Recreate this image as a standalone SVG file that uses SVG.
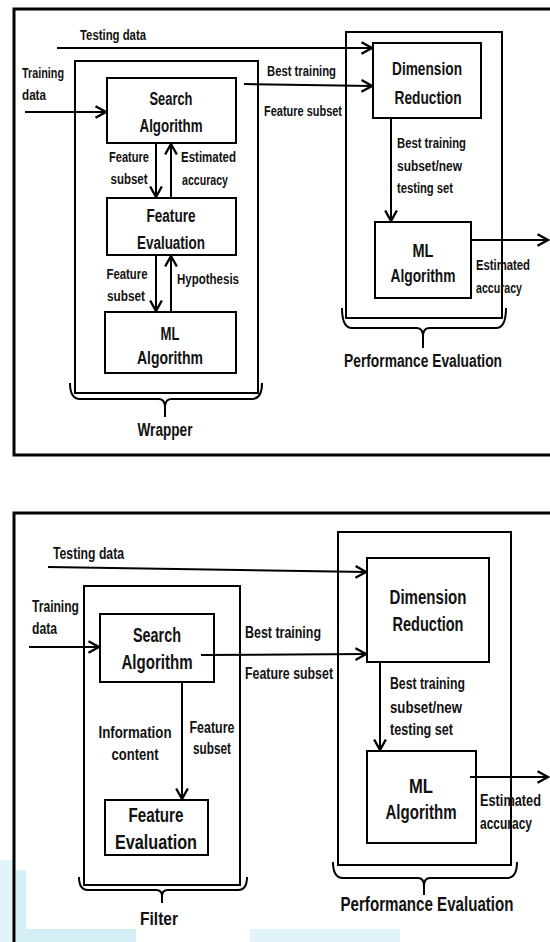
<svg xmlns="http://www.w3.org/2000/svg" width="550" height="942" viewBox="0 0 550 942">
<defs>
<marker id="arr" markerUnits="userSpaceOnUse" markerWidth="14" markerHeight="14" viewBox="-1 -1 12 12" refX="9" refY="5" orient="auto">
<path d="M0,0 L9,5 L0,10" fill="none" stroke="#000" stroke-width="2"/>
</marker>
</defs>
<style>
text{font-family:"Liberation Sans",Arial,sans-serif;font-weight:bold;fill:#111}
.c{text-anchor:middle}
.box{fill:#fff;stroke:#000;stroke-width:2}
.grp{fill:none;stroke:#000;stroke-width:2}
.frame{fill:none;stroke:#000;stroke-width:3}
.ln{fill:none;stroke:#000;stroke-width:2}
.a{marker-end:url(#arr)}
.s14{font-size:15px}.s13{font-size:14.5px}.s15{font-size:16px}.s16{font-size:18px}.s17{font-size:18px}.s18{font-size:19.5px}
.wm{fill:#d4eff6}
</style>
<rect width="550" height="942" fill="#fff"/>
<g id="watermark">
<rect class="wm" x="0" y="860" width="13" height="82" opacity="0.7"/>
<rect class="wm" x="16" y="870" width="10" height="72"/>
<rect class="wm" x="26" y="929" width="110" height="13"/>
<rect class="wm" x="250" y="929" width="150" height="13" opacity="0.7"/>
</g>

<!-- ===== Top panel ===== -->
<g id="frame-top"><rect class="frame" x="14" y="9" width="540" height="446"/></g>
<g id="wrapper"><rect class="grp" x="75" y="61" width="183" height="332"/>
<path class="ln" d="M70,383 Q70,399 80,399 H159 Q165,399 165,408 V417 M165,408 Q165,399 171,399 H252 Q262,399 262,383"/>
<text class="c s16" x="165" y="436" textLength="55" lengthAdjust="spacingAndGlyphs">Wrapper</text></g>
<g id="perf-top"><rect class="grp" x="346" y="32" width="156" height="286"/>
<path class="ln" d="M342,308 Q342,328 352,328 H417 Q423,328 423,337 V348 M423,337 Q423,328 429,328 H496 Q506,328 506,308"/>
<text class="c s17" x="423" y="367" textLength="158" lengthAdjust="spacingAndGlyphs">Performance Evaluation</text></g>
<g id="search-top"><rect class="box" x="107" y="78" width="129" height="65"/>
<text class="c s16" x="171" y="105" textLength="43" lengthAdjust="spacingAndGlyphs">Search</text><text class="c s16" x="171" y="132" textLength="63" lengthAdjust="spacingAndGlyphs">Algorithm</text></g>
<g id="feval-top"><rect class="box" x="107" y="198" width="129" height="57"/>
<text class="c s16" x="171" y="222" textLength="49" lengthAdjust="spacingAndGlyphs">Feature</text><text class="c s16" x="171" y="249" textLength="68" lengthAdjust="spacingAndGlyphs">Evaluation</text></g>
<g id="ml-top"><rect class="box" x="105" y="312" width="131" height="61"/>
<text class="c s16" x="170" y="340" textLength="19" lengthAdjust="spacingAndGlyphs">ML</text><text class="c s16" x="170" y="364" textLength="66" lengthAdjust="spacingAndGlyphs">Algorithm</text></g>
<g id="dr-top"><rect class="box" x="373" y="43" width="108" height="75"/>
<text class="c s16" x="427" y="75" textLength="70" lengthAdjust="spacingAndGlyphs">Dimension</text><text class="c s16" x="428" y="104" textLength="67" lengthAdjust="spacingAndGlyphs">Reduction</text></g>
<g id="ml2-top"><rect class="box" x="375" y="222" width="96" height="76"/>
<text class="c s16" x="423" y="257" textLength="21" lengthAdjust="spacingAndGlyphs">ML</text><text class="c s16" x="423" y="282" textLength="65" lengthAdjust="spacingAndGlyphs">Algorithm</text></g>

<g id="connectors-top">
<path class="ln a" d="M57,48 H372"/>
<path class="ln a" d="M25,112 H106"/>
<path class="ln a" d="M156,143 V197"/>
<path class="ln a" d="M171,198 V144"/>
<path class="ln a" d="M156,255 V311"/>
<path class="ln a" d="M171,312 V256"/>
<path class="ln a" d="M244,84 L372,86"/>
<path class="ln a" d="M391,118 V221"/>
<path class="ln a" d="M471,240 H548"/>
</g>
<g id="labels-top">
<text class="s14" x="80" y="40" textLength="66" lengthAdjust="spacingAndGlyphs">Testing data</text>
<text class="s14" x="22" y="78" textLength="42" lengthAdjust="spacingAndGlyphs">Training</text>
<text class="s14" x="22" y="100" textLength="24" lengthAdjust="spacingAndGlyphs">data</text>
<text class="c s13" x="129" y="162" textLength="40" lengthAdjust="spacingAndGlyphs">Feature</text>
<text class="c s13" x="129" y="184" textLength="37" lengthAdjust="spacingAndGlyphs">subset</text>
<text class="s13" x="181" y="162" textLength="55" lengthAdjust="spacingAndGlyphs">Estimated</text>
<text class="s13" x="182" y="185" textLength="46" lengthAdjust="spacingAndGlyphs">accuracy</text>
<text class="c s13" x="127" y="279" textLength="41" lengthAdjust="spacingAndGlyphs">Feature</text>
<text class="c s13" x="126" y="301" textLength="38" lengthAdjust="spacingAndGlyphs">subset</text>
<text class="s13" x="177" y="284" textLength="62" lengthAdjust="spacingAndGlyphs">Hypothesis</text>
<text class="s14" x="267" y="76" textLength="69" lengthAdjust="spacingAndGlyphs">Best training</text>
<text class="s14" x="264" y="116" textLength="78" lengthAdjust="spacingAndGlyphs">Feature subset</text>
<text class="s13" x="397" y="148" textLength="69" lengthAdjust="spacingAndGlyphs">Best training</text>
<text class="s13" x="397" y="171" textLength="65" lengthAdjust="spacingAndGlyphs">subset/new</text>
<text class="s13" x="397" y="193" textLength="56" lengthAdjust="spacingAndGlyphs">testing set</text>
<text class="s13" x="476" y="270" textLength="54" lengthAdjust="spacingAndGlyphs">Estimated</text>
<text class="s13" x="476" y="293" textLength="46" lengthAdjust="spacingAndGlyphs">accuracy</text>
</g>

<!-- ===== Bottom panel ===== -->
<g id="frame-bottom"><path class="frame" d="M14,944 V513 H552"/></g>
<g id="filter"><rect class="grp" x="84" y="586" width="156" height="299"/>
<path class="ln" d="M79,877 Q79,890 88,890 H156 Q162,890 162,896 V903 M162,896 Q162,890 168,890 H238 Q247,890 247,877"/>
<text class="c s17" x="159" y="925" textLength="38" lengthAdjust="spacingAndGlyphs">Filter</text></g>
<g id="perf-bottom"><rect class="grp" x="338" y="532" width="173" height="333"/>
<path class="ln" d="M333,862 Q333,878 343,878 H418 Q424,878 424,886 V895 M424,886 Q424,878 430,878 H507 Q517,878 517,862"/>
<text class="c s18" x="427" y="911" textLength="173" lengthAdjust="spacingAndGlyphs">Performance Evaluation</text></g>
<g id="search-bottom"><rect class="box" x="100" y="614" width="114" height="68"/>
<text class="c s18" x="157" y="642" textLength="48" lengthAdjust="spacingAndGlyphs">Search</text><text class="c s18" x="157" y="669" textLength="71" lengthAdjust="spacingAndGlyphs">Algorithm</text></g>
<g id="feval-bottom"><rect class="box" x="105" y="800" width="103" height="55"/>
<text class="c s18" x="156" y="822" textLength="55" lengthAdjust="spacingAndGlyphs">Feature</text><text class="c s18" x="156" y="849" textLength="82" lengthAdjust="spacingAndGlyphs">Evaluation</text></g>
<g id="dr-bottom"><rect class="box" x="367" y="558" width="122" height="104"/>
<text class="c s18" x="428" y="604" textLength="77" lengthAdjust="spacingAndGlyphs">Dimension</text><text class="c s18" x="428" y="631" textLength="71" lengthAdjust="spacingAndGlyphs">Reduction</text></g>
<g id="ml-bottom"><rect class="box" x="367" y="751" width="109" height="92"/>
<text class="c s18" x="421" y="793" textLength="24" lengthAdjust="spacingAndGlyphs">ML</text><text class="c s18" x="421" y="819" textLength="71" lengthAdjust="spacingAndGlyphs">Algorithm</text></g>

<g id="connectors-bottom">
<path class="ln a" d="M48,567 L366,572"/>
<path class="ln a" d="M29,647 H99"/>
<path class="ln a" d="M201,655 L366,654"/>
<path class="ln a" d="M182,682 V799"/>
<path class="ln a" d="M380,662 V750"/>
<path class="ln a" d="M470,777 H548"/>
</g>
<g id="labels-bottom">
<text class="s15" x="53" y="559" textLength="71" lengthAdjust="spacingAndGlyphs">Testing data</text>
<text class="s15" x="32" y="612" textLength="47" lengthAdjust="spacingAndGlyphs">Training</text>
<text class="s15" x="32" y="634" textLength="25" lengthAdjust="spacingAndGlyphs">data</text>
<text class="s15" x="245" y="638" textLength="76" lengthAdjust="spacingAndGlyphs">Best training</text>
<text class="s15" x="245" y="679" textLength="88" lengthAdjust="spacingAndGlyphs">Feature subset</text>
<text class="c s15" x="135" y="738" textLength="73" lengthAdjust="spacingAndGlyphs">Information</text>
<text class="c s15" x="135" y="760" textLength="47" lengthAdjust="spacingAndGlyphs">content</text>
<text class="c s15" x="212" y="733" textLength="45" lengthAdjust="spacingAndGlyphs">Feature</text>
<text class="c s15" x="212" y="754" textLength="38" lengthAdjust="spacingAndGlyphs">subset</text>
<text class="s15" x="390" y="689" textLength="75" lengthAdjust="spacingAndGlyphs">Best training</text>
<text class="s15" x="390" y="713" textLength="72" lengthAdjust="spacingAndGlyphs">subset/new</text>
<text class="s15" x="390" y="735" textLength="63" lengthAdjust="spacingAndGlyphs">testing set</text>
<text class="s15" x="480" y="806" textLength="61" lengthAdjust="spacingAndGlyphs">Estimated</text>
<text class="s15" x="480" y="829" textLength="52" lengthAdjust="spacingAndGlyphs">accuracy</text>
</g>
</svg>
